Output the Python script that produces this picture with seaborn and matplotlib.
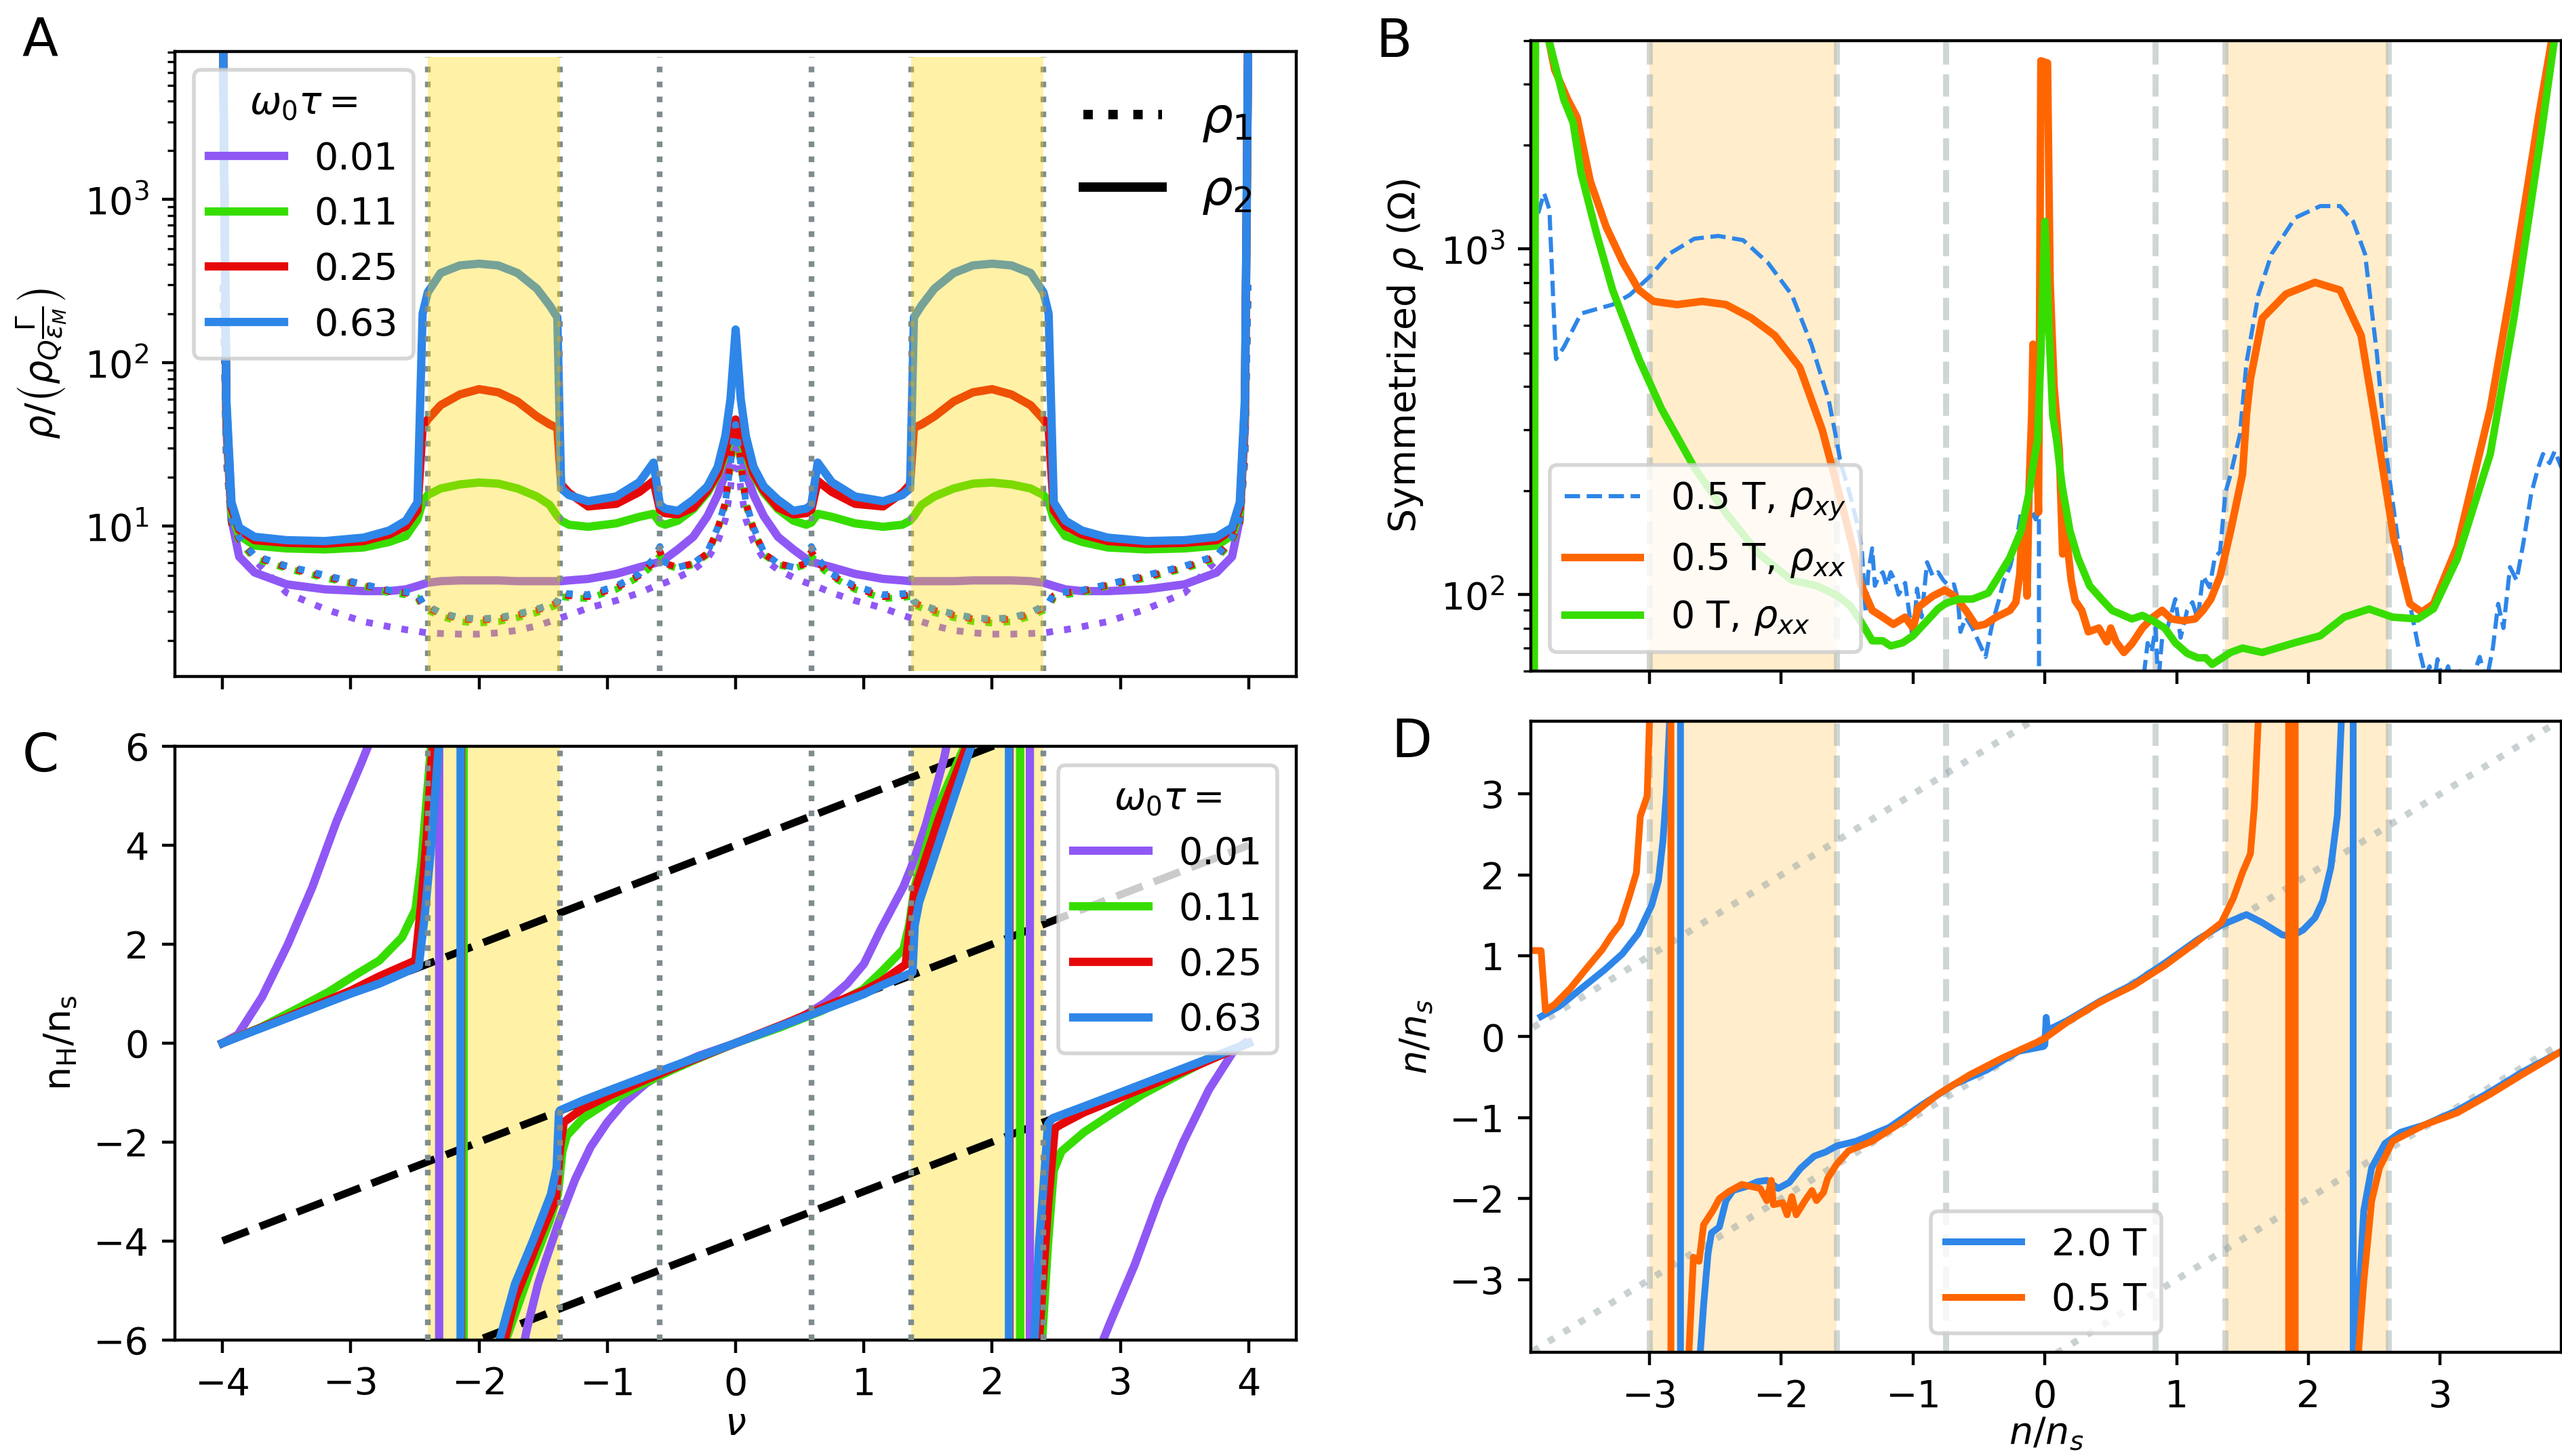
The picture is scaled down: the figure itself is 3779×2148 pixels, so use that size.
import matplotlib
matplotlib.use('Agg')
import matplotlib.pyplot as plt
import seaborn as sns
from matplotlib.lines import Line2D

# colours
c_purple = '#8f58f5'
c_green = '#37dd00'
c_red = '#e60808'
c_blue = '#2e86e8'
c_orange = '#ff6600'
c_dot = '#7f8c8d'
c_light = '#95a5a6'

tau_labels = ['0.01', '0.11', '0.25', '0.63']
tau_colors = [c_purple, c_green, c_red, c_blue]

# ---------------- Panel A: rho vs nu (log) ----------------
nu_a = [-3.995, -3.97, -3.93, -3.87, -3.75, -3.5, -3.2, -2.9, -2.7, -2.57, -2.48, -2.44, -2.4, -2.3,
        -2.15, -2.0, -1.85, -1.7, -1.55, -1.45, -1.39, -1.36, -1.3, -1.15, -0.93, -0.75, -0.64, -0.59,
        -0.55, -0.45, -0.33, -0.22, -0.14, -0.08, -0.04, -0.015, 0.0,
        0.015, 0.04, 0.08, 0.14, 0.22, 0.33, 0.45, 0.55, 0.59, 0.64, 0.75, 0.93, 1.15, 1.3, 1.36, 1.39,
        1.45, 1.55, 1.7, 1.85, 2.0, 2.15, 2.3, 2.4, 2.44, 2.48, 2.57, 2.7, 2.9, 3.2, 3.5, 3.75, 3.87,
        3.93, 3.97, 3.995]

rho2_063 = [9000, 60, 14, 9.8, 8.6, 8.2, 8.1, 8.5, 9.4, 10.8, 14, 200, 270, 355, 395, 405, 395, 355,
            285, 225, 190, 17, 15.5, 14.2, 15.2, 18.6, 24.5, 13.5, 12.8, 12.4, 14.5, 17.5, 23, 35.6, 60,
            110, 160,
            110, 60, 35.6, 23, 17.5, 14.5, 12.4, 12.8, 13.5, 24.5, 18.6, 15.2, 14.2, 15.5, 17, 190, 225,
            285, 355, 395, 405, 395, 355, 270, 200, 14, 10.8, 9.4, 8.5, 8.1, 8.2, 8.6, 9.8, 14, 60, 9000]
rho2_025 = [9000, 55, 13, 9.5, 8.2, 7.9, 7.8, 8.1, 8.9, 10.0, 12.5, 40, 45, 55, 64, 69, 66, 58, 47, 42,
            40, 18, 16, 13.2, 13.7, 16.2, 18.9, 12.6, 12.0, 11.8, 13.0, 16.5, 21, 29, 36, 42, 45,
            42, 36, 29, 21, 16.5, 13.0, 11.8, 12.0, 12.6, 18.9, 16.2, 13.7, 13.2, 16, 18, 40, 42, 47, 58,
            66, 69, 64, 55, 45, 40, 12.5, 10.0, 8.9, 8.1, 7.8, 7.9, 8.2, 9.5, 13, 55, 9000]
rho2_011 = [9000, 50, 12, 8.8, 7.6, 7.3, 7.2, 7.4, 8.0, 8.7, 11.0, 14, 15.5, 17, 18, 18.5, 18.2, 17,
            15.2, 13.5, 11.5, 10.8, 10.2, 9.9, 10.4, 11.4, 11.9, 10.5, 10.2, 10.8, 12.7, 16, 20.5, 27,
            33, 37, 39,
            37, 33, 27, 20.5, 16, 12.7, 10.8, 10.2, 10.5, 11.9, 11.4, 10.4, 9.9, 10.2, 10.8, 11.5, 13.5,
            15.2, 17, 18.2, 18.5, 18, 17, 15.5, 14, 11.0, 8.7, 8.0, 7.4, 7.2, 7.3, 7.6, 8.8, 12, 50, 9000]
rho2_001 = [9000, 40, 11, 6.5, 5.2, 4.4, 4.1, 4.0, 4.0, 4.1, 4.3, 4.4, 4.5, 4.6, 4.65, 4.65, 4.65, 4.6,
            4.6, 4.6, 4.6, 4.6, 4.65, 4.75, 5.1, 5.6, 5.9, 6.05, 6.3, 7.2, 8.6, 11.5, 15.5, 21, 28, 33, 35,
            33, 28, 21, 15.5, 11.5, 8.6, 7.2, 6.3, 6.05, 5.9, 5.6, 5.1, 4.75, 4.65, 4.6, 4.6, 4.6, 4.6,
            4.6, 4.65, 4.65, 4.65, 4.6, 4.5, 4.4, 4.3, 4.1, 4.0, 4.0, 4.1, 4.4, 5.2, 6.5, 11, 40, 9000]

rho1_063 = [300, 30, 11, 8.5, 6.6, 5.7, 5.0, 4.4, 4.05, 3.95, 3.85, 3.4, 3.25, 2.95, 2.75, 2.7, 2.75,
            2.9, 3.1, 3.3, 3.45, 3.9, 3.85, 3.8, 4.3, 5.1, 6.3, 7.5, 6.0, 5.6, 5.9, 6.9, 9.8, 14, 24, 34, 42,
            34, 24, 14, 9.8, 6.9, 5.9, 5.6, 6.0, 7.5, 6.3, 5.1, 4.3, 3.8, 3.85, 3.9, 3.45, 3.3, 3.1, 2.9,
            2.75, 2.7, 2.75, 2.95, 3.25, 3.4, 3.85, 3.95, 4.05, 4.4, 5.0, 5.7, 6.6, 8.5, 11, 30, 300]
rho1_025 = [300, 28, 10.5, 8.3, 6.5, 5.6, 4.9, 4.35, 4.0, 3.9, 3.75, 3.3, 3.15, 2.9, 2.7, 2.65, 2.7,
            2.85, 3.05, 3.25, 3.4, 3.8, 3.75, 3.7, 4.2, 5.0, 6.0, 7.0, 5.9, 5.6, 5.9, 6.8, 9.6, 14, 25, 36,
            45,
            36, 25, 14, 9.6, 6.8, 5.9, 5.6, 5.9, 7.0, 6.0, 5.0, 4.2, 3.7, 3.75, 3.8, 3.4, 3.25, 3.05, 2.85,
            2.7, 2.65, 2.7, 2.9, 3.15, 3.3, 3.75, 3.9, 4.0, 4.35, 4.9, 5.6, 6.5, 8.3, 10.5, 28, 300]
rho1_011 = [300, 27, 10, 8.1, 6.3, 5.5, 4.8, 4.3, 3.9, 3.8, 3.65, 3.2, 3.05, 2.8, 2.6, 2.55, 2.6, 2.75,
            2.95, 3.15, 3.3, 3.7, 3.65, 3.6, 4.1, 4.9, 5.8, 6.6, 5.8, 5.5, 5.8, 6.7, 9.4, 13.5, 23, 33, 40,
            33, 23, 13.5, 9.4, 6.7, 5.8, 5.5, 5.8, 6.6, 5.8, 4.9, 4.1, 3.6, 3.65, 3.7, 3.3, 3.15, 2.95,
            2.75, 2.6, 2.55, 2.6, 2.8, 3.05, 3.2, 3.65, 3.8, 3.9, 4.3, 4.8, 5.5, 6.3, 8.1, 10, 27, 300]
rho1_001 = [300, 25, 10, 8.5, 6.2, 3.9, 3.1, 2.6, 2.42, 2.32, 2.27, 2.24, 2.22, 2.2, 2.18, 2.18, 2.22,
            2.3, 2.45, 2.6, 2.7, 2.75, 2.85, 3.15, 3.5, 3.9, 4.25, 4.4, 4.5, 4.85, 5.4, 6.3, 8.0, 11, 17,
            26, 33,
            26, 17, 11, 8.0, 6.3, 5.4, 4.85, 4.5, 4.4, 4.25, 3.9, 3.5, 3.15, 2.85, 2.75, 2.7, 2.6, 2.45,
            2.3, 2.22, 2.18, 2.18, 2.2, 2.22, 2.24, 2.27, 2.32, 2.42, 2.6, 3.1, 3.9, 6.2, 8.5, 10, 25, 300]

rho2_curves = [rho2_001, rho2_011, rho2_025, rho2_063]
rho1_curves = [rho1_001, rho1_011, rho1_025, rho1_063]

# band regions (theory panels) and markers
bands_ac = [(-2.4, -1.37), (1.37, 2.4)]
marks_ac = [-2.4, -1.37, -0.59, 0.59, 1.37, 2.4]

# ---------------- Panel B: measured resistivity ----------------
b_rxx_05 = [(-3.78, 4300), (-3.72, 3300), (-3.62, 2700), (-3.55, 2400), (-3.45, 1570), (-3.33, 1160),
            (-3.2, 910), (-3.08, 760), (-2.97, 705), (-2.79, 690), (-2.6, 705), (-2.42, 690),
            (-2.23, 632), (-2.05, 562), (-1.86, 454), (-1.69, 300), (-1.61, 230), (-1.52, 170),
            (-1.46, 138), (-1.4, 108), (-1.31, 90), (-1.23, 86), (-1.15, 82), (-1.06, 86), (-1.0, 80),
            (-0.96, 92), (-0.85, 99), (-0.76, 103), (-0.685, 99), (-0.6, 90), (-0.52, 81), (-0.454, 82),
            (-0.37, 86), (-0.265, 90), (-0.22, 95), (-0.19, 115), (-0.175, 150), (-0.15, 150),
            (-0.135, 99), (-0.12, 200), (-0.1, 330), (-0.09, 530), (-0.075, 300), (-0.06, 250),
            (-0.048, 173), (-0.04, 600), (-0.03, 3500), (0.02, 3450), (0.04, 800), (0.07, 400),
            (0.11, 260), (0.135, 131), (0.145, 190), (0.17, 140), (0.2, 110), (0.23, 96), (0.28, 90),
            (0.33, 78), (0.37, 79), (0.41, 80), (0.47, 73), (0.5, 80), (0.54, 73), (0.6, 68), (0.66, 72),
            (0.74, 80), (0.82, 86), (0.89, 90), (0.96, 85), (1.05, 84), (1.14, 85), (1.2, 90),
            (1.26, 97), (1.33, 113), (1.41, 153), (1.5, 223), (1.53, 330), (1.56, 420), (1.65, 630),
            (1.83, 740), (2.05, 800), (2.24, 760), (2.4, 562), (2.52, 297), (2.65, 144), (2.77, 94),
            (2.86, 89), (2.95, 94), (3.13, 138), (3.38, 345), (3.56, 855), (3.75, 2450), (3.86, 4300)]

b_rxx_0 = [(-3.875, 55), (-3.865, 6000), (-3.77, 4100), (-3.65, 2700), (-3.58, 2320), (-3.52, 1660),
           (-3.4, 1100), (-3.28, 760), (-3.08, 480), (-2.91, 345), (-2.66, 233), (-2.42, 172),
           (-2.17, 131), (-1.92, 110), (-1.73, 106), (-1.57, 99), (-1.48, 93), (-1.4, 84), (-1.31, 73.5),
           (-1.23, 73.5), (-1.17, 71), (-1.08, 72.5), (-1.0, 76), (-0.894, 84), (-0.81, 91),
           (-0.75, 94.4), (-0.65, 97), (-0.55, 97), (-0.43, 101), (-0.35, 113), (-0.265, 128),
           (-0.18, 153), (-0.12, 197), (-0.08, 248), (-0.055, 279), (-0.03, 500), (0.0, 1200),
           (0.03, 600), (0.06, 330), (0.09, 279), (0.13, 207), (0.19, 153), (0.25, 128), (0.34, 106),
           (0.43, 97), (0.51, 90), (0.57, 88), (0.66, 85), (0.74, 87), (0.82, 84), (0.91, 80),
           (0.99, 72.5), (1.08, 67.6), (1.16, 65.6), (1.22, 65.6), (1.27, 62.8), (1.41, 68), (1.5, 70),
           (1.65, 68), (1.9, 72.6), (2.09, 76), (2.27, 86), (2.46, 90.8), (2.64, 86), (2.83, 85),
           (2.95, 91), (3.13, 127), (3.38, 255), (3.56, 632), (3.75, 1940), (3.87, 4100)]

b_rxy_05 = [(-3.89, 1100), (-3.85, 1250), (-3.8, 1450), (-3.76, 1300), (-3.73, 700), (-3.71, 480),
            (-3.65, 520), (-3.52, 650), (-3.4, 670), (-3.28, 690), (-3.15, 736), (-3.0, 830),
            (-2.85, 968), (-2.66, 1070), (-2.48, 1090), (-2.29, 1060), (-2.1, 910), (-1.92, 736),
            (-1.77, 527), (-1.64, 365), (-1.58, 279), (-1.55, 240), (-1.52, 220), (-1.48, 195),
            (-1.42, 158), (-1.39, 137), (-1.36, 89), (-1.34, 116), (-1.31, 136), (-1.29, 106),
            (-1.26, 113), (-1.23, 116), (-1.2, 106), (-1.17, 116), (-1.14, 110), (-1.11, 100),
            (-1.06, 108), (-1.0, 73), (-0.97, 104), (-0.935, 86), (-0.894, 124), (-0.85, 113),
            (-0.81, 116), (-0.77, 110), (-0.73, 106), (-0.69, 107), (-0.66, 97), (-0.64, 78), (-0.6, 86),
            (-0.55, 80), (-0.45, 66), (-0.4, 82), (-0.35, 96), (-0.31, 110), (-0.265, 120), (-0.22, 140),
            (-0.18, 173), (-0.14, 150), (-0.1, 175), (-0.07, 165), (-0.045, 173), (-0.044, 40),
            (0.74, 40), (0.75, 58), (0.78, 72.4), (0.81, 68), (0.84, 80), (0.86, 55), (0.89, 75),
            (0.93, 80), (0.99, 97), (1.03, 75), (1.08, 90), (1.12, 95), (1.16, 85), (1.2, 113),
            (1.25, 105), (1.29, 128), (1.33, 133), (1.37, 197), (1.41, 223), (1.48, 290), (1.53, 468),
            (1.62, 736), (1.72, 966), (1.9, 1230), (2.09, 1330), (2.24, 1330), (2.34, 1200), (2.43, 966),
            (2.52, 497), (2.59, 255), (2.68, 143), (2.77, 94), (2.83, 72), (2.89, 58), (2.92, 62),
            (2.95, 55), (2.98, 65), (3.02, 56), (3.06, 62), (3.1, 54), (3.15, 60), (3.2, 54), (3.25, 58),
            (3.3, 66), (3.35, 56), (3.4, 70), (3.44, 94), (3.48, 80), (3.53, 120), (3.58, 110),
            (3.63, 140), (3.69, 195), (3.74, 230), (3.78, 255), (3.83, 240), (3.87, 260), (3.92, 233)]

bands_bd = [(-3.0, -1.58), (1.37, 2.61)]
marks_bd = [-3.0, -1.58, -0.75, 0.84, 1.37, 2.61]

# ---------------- Panel C: Hall density (theory) ----------------
c_063 = [(-4.0, 0.0), (-3.5, 0.5), (-3.0, 1.0), (-2.78, 1.2), (-2.47, 1.55), (-2.425, 2.54),
         (-2.38, 3.8), (-2.337, 5.22), (-2.315, 6.0), (-2.3, 7), (-2.144, 7), (-2.144, -7), (-1.86, -7),
         (-1.84, -6.0), (-1.72, -4.87), (-1.58, -4.0), (-1.44, -3.06), (-1.395, -2.52), (-1.377, -1.40),
         (-1.368, -1.36), (-1.19, -1.16), (-1.0, -0.97), (-0.5, -0.48), (0.0, 0.0), (0.5, 0.49),
         (1.0, 0.99), (1.132, 1.16), (1.379, 1.43), (1.396, 2.38), (1.431, 2.85), (1.572, 3.95),
         (1.713, 5.05), (1.836, 6.0), (1.85, 7), (2.131, 7), (2.131, -7), (2.32, -7), (2.33, -6.0),
         (2.365, -4.08), (2.4, -2.9), (2.435, -1.64), (2.47, -1.52), (2.717, -1.28), (3.0, -1.0),
         (3.5, -0.5), (4.0, 0.0)]
c_025 = [(-4.0, 0.0), (-3.5, 0.52), (-3.0, 1.06), (-2.777, 1.35), (-2.496, 1.67), (-2.45, 2.85),
         (-2.407, 4.19), (-2.372, 5.68), (-2.36, 6.0), (-2.35, 7), (-2.14, 7), (-2.14, -7), (-1.81, -7),
         (-1.80, -6.0), (-1.72, -5.18), (-1.54, -4.0), (-1.4, -3.14), (-1.368, -2.11), (-1.34, -1.6),
         (-1.19, -1.32), (-1.0, -1.08), (-0.7, -0.74), (-0.4, -0.41), (0.0, 0.0), (0.4, 0.41),
         (0.7, 0.74), (1.0, 1.06), (1.132, 1.24), (1.326, 1.59), (1.352, 2.22), (1.396, 3.07),
         (1.59, 4.58), (1.8, 6.0), (1.81, 7), (2.135, 7), (2.135, -7), (2.36, -7), (2.365, -6.0),
         (2.435, -3.29), (2.488, -1.72), (2.54, -1.64), (2.717, -1.4), (3.0, -1.1), (3.3, -0.78),
         (3.6, -0.45), (4.0, 0.0)]
c_011 = [(-4.0, 0.0), (-3.7, 0.32), (-3.4, 0.72), (-3.17, 1.04), (-2.95, 1.4), (-2.777, 1.67),
         (-2.6, 2.14), (-2.496, 2.7), (-2.45, 3.64), (-2.407, 4.98), (-2.375, 6.0), (-2.36, 7),
         (-2.12, 7), (-2.12, -7), (-1.80, -7), (-1.79, -6.0), (-1.6, -4.6), (-1.45, -3.6),
         (-1.385, -3.06), (-1.35, -2.19), (-1.315, -1.87), (-1.19, -1.52), (-1.0, -1.2), (-0.75, -0.86),
         (-0.5, -0.55), (-0.29, -0.31), (0.0, 0.0), (0.35, 0.32), (0.67, 0.65), (0.99, 1.08),
         (1.132, 1.43), (1.308, 1.9), (1.352, 2.38), (1.396, 3.16), (1.572, 4.74), (1.784, 6.0),
         (1.8, 7), (2.218, 7), (2.218, -7), (2.38, -7), (2.39, -6.0), (2.435, -4.08), (2.48, -2.58),
         (2.54, -2.19), (2.717, -1.8), (2.95, -1.4), (3.17, -1.04), (3.4, -0.72), (3.7, -0.32),
         (4.0, 0.0)]
c_001 = [(-4.0, 0.0), (-3.88, 0.17), (-3.69, 0.94), (-3.49, 2.0), (-3.3, 3.15), (-3.11, 4.49),
         (-2.92, 5.65), (-2.85, 6.1), (-2.84, 7), (-2.311, 7), (-2.311, -7), (-1.66, -7), (-1.652, -6.1),
         (-1.625, -5.76), (-1.54, -4.87), (-1.484, -4.42), (-1.37, -3.56), (-1.25, -2.75),
         (-1.13, -2.1), (-1.0, -1.6), (-0.87, -1.2), (-0.7, -0.82), (-0.5, -0.5), (-0.29, -0.26),
         (0.0, 0.0), (0.29, 0.27), (0.5, 0.5), (0.7, 0.82), (0.87, 1.2), (1.0, 1.6), (1.132, 2.3),
         (1.308, 3.16), (1.37, 3.56), (1.484, 4.42), (1.625, 5.76), (1.652, 6.1), (1.66, 7),
         (2.294, 7), (2.294, -7), (2.84, -7), (2.85, -6.1), (2.92, -5.65), (3.11, -4.49), (3.3, -3.15),
         (3.49, -2.0), (3.69, -0.94), (3.88, -0.17), (3.97, 0.0)]
c_curves = [c_001, c_011, c_025, c_063]

# dashed guides n_H = nu + k*4
guide_nu = [-4.0, 4.0]
guide_up = [0.0, 8.0]
guide_mid = [-4.0, 4.0]
guide_low = [-8.0, 0.0]

# ---------------- Panel D: measured Hall density ----------------
d_20 = [(-3.823, 0.25), (-3.686, 0.375), (-3.515, 0.6), (-3.343, 0.825), (-3.206, 1.025),
        (-3.086, 1.275), (-2.984, 1.625), (-2.933, 1.925), (-2.898, 2.425), (-2.872, 3.025),
        (-2.847, 3.93), (-2.84, 5), (-2.765, 5), (-2.765, -5), (-2.62, -5), (-2.615, -3.9),
        (-2.59, -3.325), (-2.556, -2.675), (-2.53, -2.425), (-2.47, -2.35), (-2.42, -2.025),
        (-2.367, -1.9), (-2.264, -1.85), (-2.179, -1.79), (-2.11, -1.775), (-2.024, -1.875),
        (-1.939, -1.8), (-1.853, -1.625), (-1.75, -1.475), (-1.665, -1.425), (-1.58, -1.35),
        (-1.43, -1.29), (-1.18, -1.12), (-0.94, -0.85), (-0.69, -0.59), (-0.44, -0.41), (-0.2, -0.18),
        (-0.01, -0.12), (0.0, -0.1), (0.01, 0.24), (0.02, 0.08), (0.17, 0.2), (0.42, 0.44),
        (0.67, 0.65), (0.91, 0.91), (1.16, 1.2), (1.34, 1.38), (1.53, 1.51), (1.65, 1.41), (1.8, 1.26),
        (1.87, 1.24), (1.96, 1.32), (2.05, 1.47), (2.11, 1.68), (2.17, 2.09), (2.22, 2.74), (2.25, 3.9),
        (2.26, 5), (2.34, 5), (2.34, -5), (2.355, -5), (2.36, -3.9), (2.42, -2.15), (2.48, -1.62),
        (2.58, -1.32), (2.7, -1.18), (2.88, -1.09), (3.13, -0.91), (3.38, -0.68), (3.62, -0.44),
        (3.92, -0.18)]
d_05 = [(-3.9, 1.065), (-3.823, 1.065), (-3.79, 0.325), (-3.72, 0.4), (-3.6, 0.6), (-3.463, 0.875),
        (-3.36, 1.075), (-3.29, 1.25), (-3.22, 1.4), (-3.155, 1.725), (-3.1, 2.025), (-3.07, 2.725),
        (-3.018, 2.975), (-3.0, 3.93), (-2.99, 5), (-2.838, 5), (-2.838, -5), (-2.71, -5),
        (-2.701, -3.9), (-2.667, -2.725), (-2.624, -2.775), (-2.59, -2.325), (-2.52, -2.15),
        (-2.47, -2.0), (-2.4, -1.915), (-2.3, -1.825), (-2.23, -1.85), (-2.16, -1.875), (-2.11, -2.025),
        (-2.076, -1.775), (-2.06, -2.075), (-1.99, -2.05), (-1.956, -2.2), (-1.92, -1.975),
        (-1.887, -2.2), (-1.82, -2.025), (-1.767, -1.9), (-1.733, -2.025), (-1.68, -1.925),
        (-1.648, -1.75), (-1.58, -1.575), (-1.49, -1.41), (-1.31, -1.29), (-1.06, -1.03),
        (-0.81, -0.71), (-0.57, -0.47), (-0.32, -0.26), (-0.01, -0.03), (0.17, 0.18), (0.42, 0.43),
        (0.67, 0.63), (0.91, 0.88), (1.16, 1.18), (1.34, 1.41), (1.43, 1.71), (1.5, 2.03),
        (1.56, 2.26), (1.59, 2.85), (1.62, 3.93), (1.63, 5), (1.85, 5), (1.85, -5), (1.875, -5),
        (1.875, 5), (1.9, 5), (1.9, -5), (2.37, -5), (2.38, -3.9), (2.42, -3.03), (2.48, -2.03),
        (2.54, -1.62), (2.64, -1.29), (2.88, -1.09), (3.13, -0.94), (3.38, -0.71), (3.62, -0.47),
        (3.92, -0.18)]

diag_n = [-4.0, 4.0]
diag_up = [0.0, 8.0]
diag_mid = [-4.0, 4.0]
diag_low = [-8.0, 0.0]


def draw(ax, pts_x, pts_y, **kw):
    sns.lineplot(x=list(pts_x), y=list(pts_y), ax=ax, sort=False, estimator=None,
                 legend=False, **kw)


def draw_pts(ax, pts, **kw):
    xs, ys = zip(*pts)
    draw(ax, xs, ys, **kw)


fig = plt.figure(figsize=(9.45, 5.37), dpi=400)
ax_a = fig.add_axes([0.0683, 0.5354, 0.4375, 0.4294])
ax_b = fig.add_axes([0.5974, 0.539, 0.4021, 0.433])
ax_c = fig.add_axes([0.0683, 0.0798, 0.4375, 0.4076])
ax_d = fig.add_axes([0.5974, 0.0712, 0.4021, 0.4335])

# ---- A ----
ax_a.set_yscale('log')
for col, r1, r2 in zip(tau_colors, rho1_curves, rho2_curves):
    draw(ax_a, nu_a, r1, color=col, lw=1.8, linestyle=':')
    draw(ax_a, nu_a, r2, color=col, lw=2.2)
for lo, hi in bands_ac:
    ax_a.axvspan(lo, hi, ymin=0.009, ymax=0.991, color='gold', alpha=0.35, lw=0, zorder=3)
for v in marks_ac:
    ax_a.axvline(v, ymin=0.009, ymax=0.991, color=c_dot, ls=':', lw=1.5, zorder=2.5)
ax_a.set_xlim(-4.37, 4.37)
ax_a.set_ylim(1.2, 8100)
ax_a.set_xticks(range(-4, 5))
ax_a.tick_params(labelbottom=False)
ax_a.set_ylabel(r'$\rho/\left(\rho_Q\frac{\Gamma}{\epsilon_M}\right)$')
h_tau = [Line2D([], [], color=c, lw=2.2) for c in tau_colors]
leg1 = ax_a.legend(h_tau, tau_labels, title=r'$\omega_0\tau=$', loc='upper left')
ax_a.add_artist(leg1)
h_rho = [Line2D([], [], color='black', lw=2.5, ls=':'), Line2D([], [], color='black', lw=2.5)]
ax_a.legend(h_rho, [r'$\rho_1$', r'$\rho_2$'], loc='upper right', frameon=False, fontsize=13,
            handlelength=1.6)

# ---- B ----
ax_b.set_yscale('log')
for lo, hi in bands_bd:
    ax_b.axvspan(lo, hi, color='orange', alpha=0.2, lw=0, zorder=0.5)
for v in marks_bd:
    ax_b.axvline(v, color=c_light, ls='--', lw=1.6, alpha=0.45, zorder=1)
draw_pts(ax_b, b_rxy_05, color=c_blue, lw=1.1, linestyle='--')
draw_pts(ax_b, b_rxx_05, color=c_orange, lw=2)
draw_pts(ax_b, b_rxx_0, color=c_green, lw=2)
ax_b.set_xlim(-3.9, 3.92)
ax_b.set_ylim(60, 4000)
ax_b.set_xticks(range(-3, 4))
ax_b.tick_params(labelbottom=False)
ax_b.set_ylabel(r'Symmetrized $\rho$ ($\Omega$)')
h_b = [Line2D([], [], color=c_blue, lw=1.1, ls='--'), Line2D([], [], color=c_orange, lw=2),
       Line2D([], [], color=c_green, lw=2)]
ax_b.legend(h_b, [r'0.5 T, $\rho_{xy}$', r'0.5 T, $\rho_{xx}$', r'0 T, $\rho_{xx}$'],
            loc='lower left')

# ---- C ----
for lo, hi in bands_ac:
    ax_c.axvspan(lo, hi, color='gold', alpha=0.35, lw=0, zorder=0.5)
for gy in [guide_up, guide_mid, guide_low]:
    draw(ax_c, guide_nu, gy, color='black', lw=2, linestyle='--', zorder=1.5)
for col, pts in zip(tau_colors, c_curves):
    draw_pts(ax_c, pts, color=col, lw=2.2)
for v in marks_ac:
    ax_c.axvline(v, color=c_dot, ls=':', lw=1.5, zorder=3)
ax_c.set_xlim(-4.37, 4.37)
ax_c.set_ylim(-6, 6)
ax_c.set_xticks(range(-4, 5))
ax_c.set_xlabel(r'$\nu$', labelpad=1)
ax_c.set_ylabel(r'$\mathrm{n_H/n_s}$')
ax_c.legend(h_tau, tau_labels, title=r'$\omega_0\tau=$', loc='upper right')

# ---- D ----
for lo, hi in bands_bd:
    ax_d.axvspan(lo, hi, color='orange', alpha=0.2, lw=0, zorder=0.5)
for v in marks_bd:
    ax_d.axvline(v, color=c_light, ls='--', lw=1.6, alpha=0.45, zorder=1)
for gy in [diag_up, diag_mid, diag_low]:
    draw(ax_d, diag_n, gy, color=c_light, lw=1.8, linestyle=':', alpha=0.5, zorder=1)
draw_pts(ax_d, d_20, color=c_blue, lw=1.8)
draw_pts(ax_d, d_05, color=c_orange, lw=1.8)
ax_d.set_xlim(-3.9, 3.92)
ax_d.set_ylim(-3.9, 3.9)
ax_d.set_xticks(range(-3, 4))
ax_d.set_yticks(range(-3, 4))
ax_d.set_xlabel(r'$n/n_s$', labelpad=0)
ax_d.set_ylabel(r'$n/n_s$')
h_d = [Line2D([], [], color=c_blue, lw=1.8), Line2D([], [], color=c_orange, lw=1.8)]
ax_d.legend(h_d, ['2.0 T', '0.5 T'], loc='lower center')

# panel letters
fig.text(0.0085, 0.961, 'A', fontsize=14, va='baseline')
fig.text(0.537, 0.961, 'B', fontsize=14, va='baseline')
fig.text(0.0085, 0.4704, 'C', fontsize=14, va='baseline')
fig.text(0.543, 0.4802, 'D', fontsize=14, va='baseline')

fig.savefig('out.png', dpi=400)
